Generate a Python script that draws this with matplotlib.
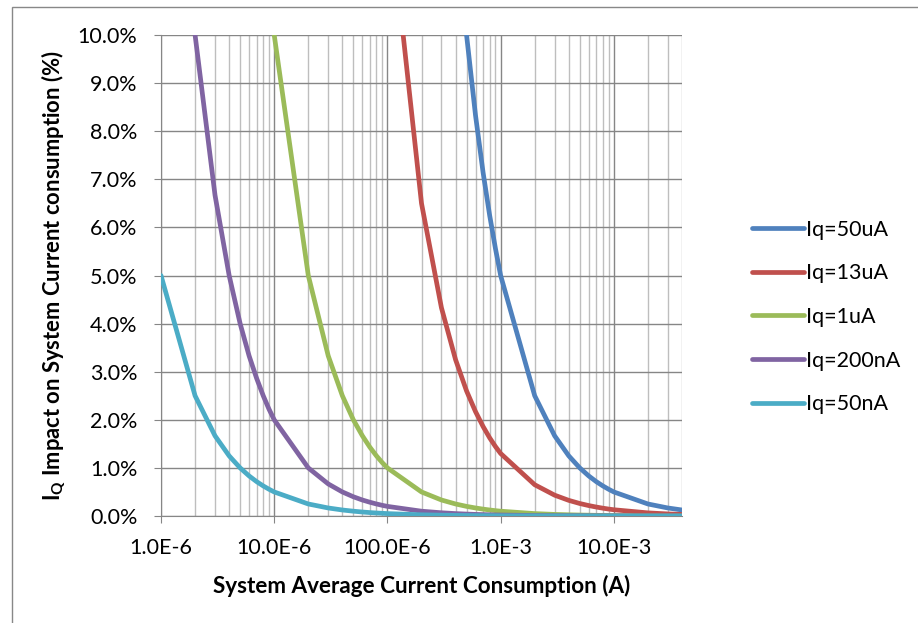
import matplotlib.pyplot as plt
import numpy as np
from matplotlib.patches import Rectangle
from matplotlib.ticker import FixedLocator, FuncFormatter, LogLocator, NullFormatter

plt.rcParams["font.family"] = ["Lato", "DejaVu Sans"]
plt.rcParams["mathtext.fontset"] = "custom"
plt.rcParams["mathtext.bf"] = "Lato:bold"
plt.rcParams["mathtext.rm"] = "Lato"

# system average current (A)
current = [
    1e-6, 2e-6, 3e-6, 4e-6, 5e-6, 6e-6, 7e-6, 8e-6, 9e-6,
    10e-6, 20e-6, 30e-6, 40e-6, 50e-6, 60e-6, 70e-6, 80e-6, 90e-6,
    100e-6, 200e-6, 300e-6, 400e-6, 500e-6, 600e-6, 700e-6, 800e-6, 900e-6,
    1e-3, 2e-3, 3e-3, 4e-3, 5e-3, 6e-3, 7e-3, 8e-3, 9e-3,
    10e-3, 20e-3, 30e-3, 40e-3,
]

# impact in percent
iq_50ua = [
    5000, 2500, 1666.7, 1250, 1000, 833.3, 714.3, 625, 555.6,
    500, 250, 166.7, 125, 100, 83.3, 71.4, 62.5, 55.6,
    50, 25, 16.67, 12.5, 10, 8.33, 7.14, 6.25, 5.56,
    5.0, 2.5, 1.667, 1.25, 1.0, 0.833, 0.714, 0.625, 0.556,
    0.5, 0.25, 0.167, 0.125,
]
iq_13ua = [
    1300, 650, 433.3, 325, 260, 216.7, 185.7, 162.5, 144.4,
    130, 65, 43.3, 32.5, 26, 21.7, 18.6, 16.25, 14.44,
    13, 6.5, 4.33, 3.25, 2.6, 2.17, 1.86, 1.625, 1.444,
    1.3, 0.65, 0.433, 0.325, 0.26, 0.217, 0.186, 0.1625, 0.144,
    0.13, 0.065, 0.043, 0.0325,
]
iq_1ua = [
    100, 50, 33.3, 25, 20, 16.7, 14.3, 12.5, 11.1,
    10, 5, 3.33, 2.5, 2.0, 1.67, 1.43, 1.25, 1.11,
    1.0, 0.5, 0.333, 0.25, 0.2, 0.167, 0.143, 0.125, 0.111,
    0.1, 0.05, 0.033, 0.025, 0.02, 0.017, 0.014, 0.0125, 0.011,
    0.01, 0.005, 0.0033, 0.0025,
]
iq_200na = [
    20, 10, 6.67, 5, 4, 3.33, 2.86, 2.5, 2.22,
    2.0, 1.0, 0.667, 0.5, 0.4, 0.333, 0.286, 0.25, 0.222,
    0.2, 0.1, 0.067, 0.05, 0.04, 0.033, 0.029, 0.025, 0.022,
    0.02, 0.01, 0.0067, 0.005, 0.004, 0.0033, 0.0029, 0.0025, 0.0022,
    0.002, 0.001, 0.0007, 0.0005,
]
iq_50na = [
    5, 2.5, 1.667, 1.25, 1.0, 0.833, 0.714, 0.625, 0.556,
    0.5, 0.25, 0.167, 0.125, 0.1, 0.083, 0.071, 0.0625, 0.056,
    0.05, 0.025, 0.017, 0.0125, 0.01, 0.0083, 0.0071, 0.0063, 0.0056,
    0.005, 0.0025, 0.0017, 0.00125, 0.001, 0.0008, 0.0007, 0.0006, 0.0006,
    0.0005, 0.00025, 0.00017, 0.000125,
]

labels = ["Iq=50uA", "Iq=13uA", "Iq=1uA", "Iq=200nA", "Iq=50nA"]
colors = ["#4F81BD", "#C0504D", "#9BBB59", "#8064A2", "#4BACC6"]
series = [iq_50ua, iq_13ua, iq_1ua, iq_200na, iq_50na]

fig = plt.figure(figsize=(9.18, 6.23), dpi=100)
ax = fig.add_axes([161 / 918, 1 - 516 / 623, (682 - 161) / 918, (516 - 35) / 623])

fig.patches.append(
    Rectangle((12 / 918, -0.05), 1.0, 1 - 7 / 623 + 0.05, transform=fig.transFigure,
              fill=False, edgecolor="#888888", linewidth=1.0)
)

for ys, lab, col in zip(series, labels, colors):
    ax.plot(current, ys, color=col, lw=3.4, label=lab, solid_capstyle="round", zorder=3)

ax.set_xscale("log")
ax.set_xlim(1e-6, 40e-3)
ax.set_ylim(0, 10)

ax.xaxis.set_major_locator(FixedLocator([1e-6, 1e-5, 1e-4, 1e-3, 1e-2]))
ax.xaxis.set_minor_locator(LogLocator(base=10, subs=np.arange(2, 10)))
ax.xaxis.set_minor_formatter(NullFormatter())
xlabels = {1e-6: "1.0E-6", 1e-5: "10.0E-6", 1e-4: "100.0E-6", 1e-3: "1.0E-3", 1e-2: "10.0E-3"}
ax.xaxis.set_major_formatter(FuncFormatter(lambda v, p: xlabels.get(v, "")))
ax.set_yticks(np.arange(0, 11, 1))
ax.yaxis.set_major_formatter(FuncFormatter(lambda v, p: f"{v:.1f}%"))

ax.grid(True, which="major", color="#868686", lw=1.0)
ax.grid(True, which="minor", axis="x", color="#BEBEBE", lw=1.0)
ax.set_axisbelow(True)

for s in ["top", "right"]:
    ax.spines[s].set_visible(False)
for s in ["left", "bottom"]:
    ax.spines[s].set_color("#868686")
ax.tick_params(axis="both", which="major", length=5, color="#868686", labelsize=15.5,
               labelcolor="black")
ax.tick_params(axis="x", which="major", pad=11)
ax.tick_params(axis="y", which="major", pad=12)
ax.tick_params(axis="x", which="minor", length=0)

ax.set_xlabel("System Average Current Consumption (A)", fontsize=16.2, fontweight="bold",
              labelpad=12)
ax.set_ylabel(r"I$_\mathbf{Q}$ Impact on System Current consumption (%)", fontsize=15.8,
              fontweight="bold")
ax.yaxis.set_label_coords(-0.179, 0.5)

ax.legend(loc="center left", bbox_to_anchor=(752 / 918, 1 - 317 / 623),
          bbox_transform=fig.transFigure, frameon=False, fontsize=15.5,
          handlelength=2.4, handletextpad=0.1, labelspacing=1.1, borderaxespad=0,
          borderpad=0)

fig.savefig("out.png", dpi=100)
